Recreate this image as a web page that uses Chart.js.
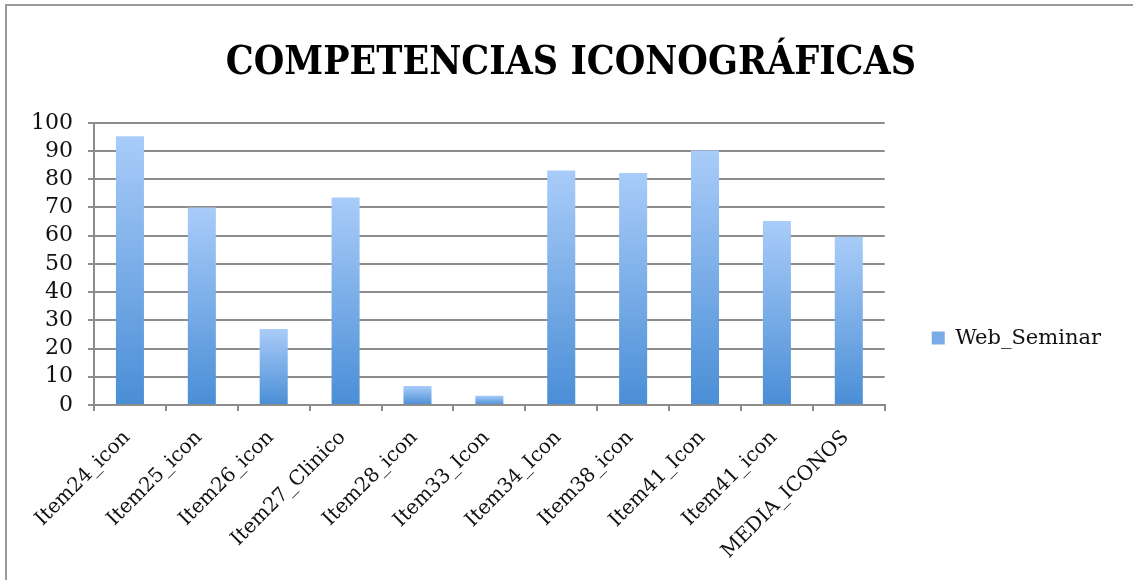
<!DOCTYPE html>
<html lang="es">
<head>
<meta charset="utf-8">
<title>Competencias iconográficas</title>
<script src="https://cdn.jsdelivr.net/npm/chart.js@4.4.0/dist/chart.umd.min.js"></script>
<style>
  html, body { margin: 0; padding: 0; background: #fff; overflow: hidden; }
  .contenedor { position: relative; width: 1133px; height: 580px; overflow: hidden; }
  .marco {
    position: absolute; left: 5px; top: 4px; width: 1200px; height: 650px;
    border-left: 2px solid #9a9a9a; border-top: 2px solid #9a9a9a;
    pointer-events: none;
  }
  canvas { position: absolute; left: 0; top: 0; }
</style>
</head>
<body>
<div class="contenedor">
  <canvas id="grafica" width="1133" height="580"></canvas>
  <div class="marco"></div>
</div>
<script>
const categorias = ['Item24_icon', 'Item25_icon', 'Item26_icon', 'Item27_Clinico', 'Item28_icon',
  'Item33_Icon', 'Item34_Icon', 'Item38_icon', 'Item41_Icon', 'Item41_icon', 'MEDIA_ICONOS'];
const valores = [95.2, 70, 26.9, 73.5, 6.7, 3.3, 83.1, 82.2, 90.2, 65.2, 59.6];
const nombreSerie = 'Web_Seminar';
const ticksY = [0, 10, 20, 30, 40, 50, 60, 70, 80, 90, 100];

const fuente = "'DejaVu Serif', 'Liberation Serif', serif";

// degradado de cada barra, claro arriba y oscuro abajo
function colorBarra(ctx) {
  const chart = ctx.chart;
  if (ctx.type !== 'data' || !chart.chartArea) return '#79abe6';
  const y = chart.scales.y;
  const arriba = y.getPixelForValue(ctx.parsed ? ctx.parsed.y : valores[ctx.dataIndex]);
  const abajo = y.getPixelForValue(0);
  if (!isFinite(arriba) || arriba === abajo) return '#79abe6';
  const g = chart.ctx.createLinearGradient(0, arriba, 0, abajo);
  g.addColorStop(0, '#a9ccf9');
  g.addColorStop(1, '#4a8ed6');
  return g;
}

new Chart(document.getElementById('grafica'), {
  type: 'bar',
  data: {
    labels: categorias,
    datasets: [{
      label: nombreSerie,
      data: valores,
      backgroundColor: colorBarra,
      borderWidth: 0,
      barPercentage: 0.39,
      categoryPercentage: 1
    }]
  },
  options: {
    responsive: false,
    animation: false,
    layout: { padding: { left: 31, right: 22, top: 0, bottom: 8 } },
    plugins: {
      title: {
        display: true,
        text: 'COMPETENCIAS ICONOGRÁFICAS',
        color: '#000',
        font: { family: "'DejaVu Serif Condensed', 'DejaVu Serif', serif", size: 39, weight: 'bold' },
        padding: { top: 40, bottom: 36 }
      },
      legend: {
        position: 'right',
        // titulo vacio solo para bajar la leyenda
        title: { display: true, text: '', font: { size: 1 }, padding: { top: 103, bottom: 0 } },
        labels: {
          color: '#111',
          font: { family: fuente, size: 21 },
          boxWidth: 13,
          boxHeight: 13,
          padding: 47,
          generateLabels: () => [{
            text: nombreSerie,
            fillStyle: '#79abe6',
            strokeStyle: '#79abe6',
            fontColor: '#111',
            lineWidth: 0,
            datasetIndex: 0
          }]
        }
      },
      tooltip: { enabled: false }
    },
    scales: {
      x: {
        afterFit: (eje) => { eje.height = 167; },
        grid: {
          offset: true,
          drawOnChartArea: false,
          color: '#8c8c8c',
          lineWidth: 2,
          tickLength: 6
        },
        border: { color: '#8c8c8c', width: 2 },
        ticks: {
          color: '#111',
          font: { family: fuente, size: 20 },
          minRotation: 45,
          maxRotation: 45,
          autoSkip: false,
          labelOffset: -3,
          padding: 15
        }
      },
      y: {
        min: 0,
        max: 100,
        afterFit: (eje) => { eje.width = 63; },
        afterBuildTicks: (eje) => { eje.ticks = ticksY.map(v => ({ value: v })); },
        grid: { color: '#8c8c8c', lineWidth: 2, tickLength: 6 },
        border: { color: '#8c8c8c', width: 2 },
        ticks: {
          color: '#111',
          font: { family: fuente, size: 22 },
          autoSkip: false,
          padding: 15
        }
      }
    }
  }
});
</script>
</body>
</html>
